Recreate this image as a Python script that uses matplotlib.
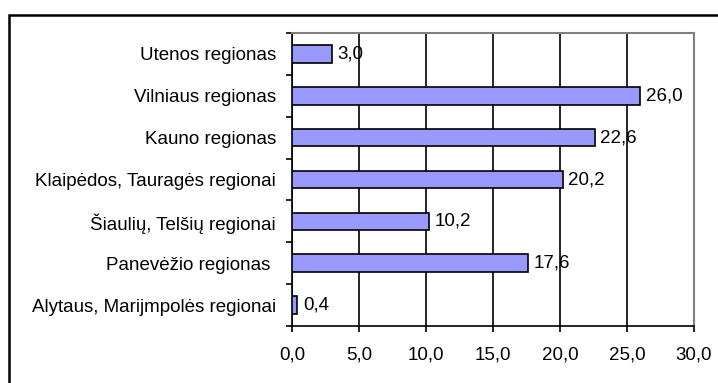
import numpy as np
import matplotlib.pyplot as plt
import matplotlib.patches as patches

plt.rcParams['font.family'] = ['Liberation Sans', 'DejaVu Sans']

regions = [
    "Alytaus, Marijmpolės regionai",
    "Panevėžio regionas ",
    "Šiaulių, Telšių regionai",
    "Klaipėdos, Tauragės regionai",
    "Kauno regionas",
    "Vilniaus regionas",
    "Utenos regionas",
]
shares = [0.4, 17.6, 10.2, 20.2, 22.6, 26.0, 3.0]
xticks = [0, 5, 10, 15, 20, 25, 30]

FS = 13.5
W, H = 718, 383
fig = plt.figure(figsize=(W / 100, H / 100), dpi=100)
# plot area in pixels: left 292, right 694, top 33, bottom 326
ax = fig.add_axes([292 / W, 1 - 326 / H, (694 - 292) / W, (326 - 33) / H])

# outer chart frame (runs off the right and bottom edges)
fig.add_artist(patches.Rectangle((9 / W, -0.05), 1.0, 1 - 15 / H + 0.05,
                                 transform=fig.transFigure, fill=False,
                                 edgecolor='black', linewidth=1.8))

y = np.arange(len(regions))
ax.barh(y, shares, height=0.42, color='#9999FF', edgecolor='black',
        linewidth=1.2, zorder=3)

for yi, v in zip(y, shares):
    ax.annotate(f"{v:.1f}".replace('.', ','), (v, yi), xytext=(4, 0),
                textcoords='offset points', va='center', ha='left',
                fontsize=FS, zorder=4)

ax.set_xlim(0, 30)
ax.set_ylim(-0.5, len(regions) - 0.5)
ax.set_xticks(xticks)
ax.set_xticklabels([f"{t:.1f}".replace('.', ',') for t in xticks], fontsize=FS)
ax.set_yticks(y)
ax.set_yticklabels(regions, fontsize=FS)
ax.set_yticks(np.arange(-0.5, len(regions), 1), minor=True)

ax.tick_params(axis='y', which='major', length=0, pad=11.5)
ax.tick_params(axis='y', which='minor', length=4, width=1.2, direction='out')
ax.tick_params(axis='x', length=4, width=1.2, direction='out', pad=11)

ax.grid(axis='x', color='black', linewidth=1.2, zorder=1)
ax.set_axisbelow(True)

for side in ('left', 'bottom'):
    ax.spines[side].set_color('black')
    ax.spines[side].set_linewidth(1.2)
for side in ('top', 'right'):
    ax.spines[side].set_color('#808080')
    ax.spines[side].set_linewidth(1.5)

fig.savefig('out.png', dpi=100)
